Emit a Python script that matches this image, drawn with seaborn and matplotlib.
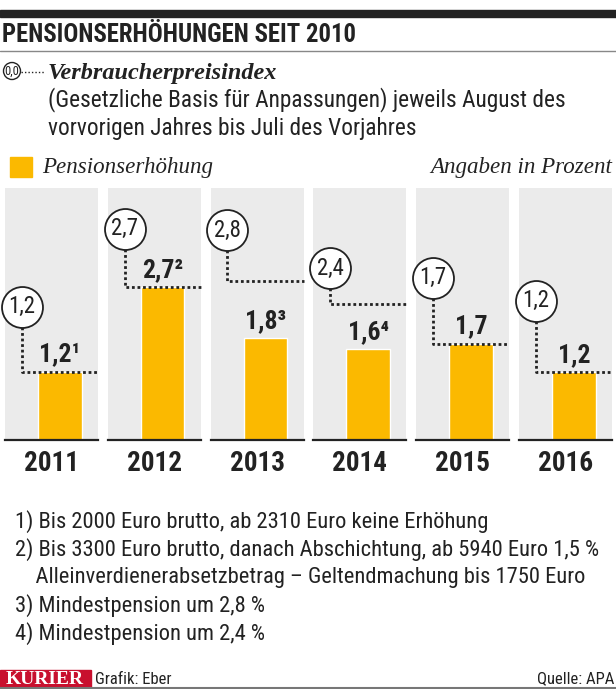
import pandas as pd
import seaborn as sns
import matplotlib.pyplot as plt
from matplotlib import font_manager
from matplotlib.lines import Line2D
from matplotlib.patches import Rectangle, Ellipse

years = ['2011', '2012', '2013', '2014', '2015', '2016']
pension = [1.2, 2.7, 1.8, 1.6, 1.7, 1.2]
cpi = [1.2, 2.7, 2.8, 2.4, 1.7, 1.2]
marks = ['¹', '²', '³', '⁴', '', '']
footnotes = [
    '1) Bis 2000 Euro brutto, ab 2310 Euro keine Erhöhung',
    '2) Bis 3300 Euro brutto, danach Abschichtung, ab 5940 Euro 1,5 %',
    '    Alleinverdienerabsetzbetrag – Geltendmachung bis 1750 Euro',
    '3) Mindestpension um 2,8 %',
    '4) Mindestpension um 2,4 %',
]
# layout only: where the CPI bubbles sit in each panel (data units)
bubble_y = [2.35, 3.72, 3.70, 3.03, 2.86, 2.45]

ORANGE = '#FBB900'
GRAY = '#EBEBEB'
INK = '#222222'

sns.set_style('white')
names = {f.name for f in font_manager.fontManager.ttflist}
cond = next((n for n in ['Liberation Sans Narrow', 'Roboto Condensed', 'Open Sans Condensed']
             if n in names), 'Roboto')
plt.rcParams['font.family'] = [cond, 'DejaVu Sans']
SERIF = ['Liberation Serif', 'DejaVu Serif']

W, H = 616, 689
fig = plt.figure(figsize=(W / 100, H / 100), dpi=100)


def fx(x):
    return x / W


def fy(y):
    return 1 - y / H


def fmt(v):
    return f'{v:.1f}'.replace('.', ',')


axes = fig.subplots(1, 6)
fig.subplots_adjust(left=fx(5), right=fx(612), top=fy(188), bottom=fy(440), wspace=10 / 93)

df = pd.DataFrame({'Jahr': years, 'Pension': pension, 'VPI': cpi})
px_per_unit = 252 / 4.44

for i, ax in enumerate(axes):
    sns.barplot(data=df.iloc[[i]], x='Jahr', y='Pension', color=ORANGE, width=0.47,
                saturation=1, ax=ax, zorder=2)
    ax.set_facecolor(GRAY)
    ax.set_xlim(-0.59, 0.41)
    ax.set_ylim(0, 4.44)
    ax.set_xticks([])
    ax.set_yticks([])
    ax.set_xlabel('')
    ax.set_ylabel('')
    for s in ['top', 'left', 'right']:
        ax.spines[s].set_visible(False)
    ax.spines['bottom'].set_color(INK)
    ax.spines['bottom'].set_linewidth(1.6)

    # CPI bubble with dotted leader
    cx, r = -0.41, 0.36
    ax.plot([cx, cx, 0.41], [bubble_y[i] - r, df.VPI[i], df.VPI[i]], color=INK, lw=2,
            ls=(0, (1, 1)), clip_on=False, zorder=3)
    ax.scatter([cx], [bubble_y[i]], s=870, facecolor='white', edgecolor=INK, lw=1.3,
               zorder=5, clip_on=False)
    ax.text(cx, bubble_y[i], fmt(df.VPI[i]), ha='center', va='center', fontsize=16.5,
            color=INK, zorder=6)

    ax.text(0, df.Pension[i] + 10 / px_per_unit, fmt(df.Pension[i]) + marks[i],
            ha='center', va='baseline', fontsize=18.5, weight='bold', color=INK)
    ax.text(0.5, -0.092, years[i], transform=ax.transAxes, ha='center', va='center',
            fontsize=19.5, weight='bold', color=INK)

# header
fig.add_artist(Rectangle((0, fy(17)), 1, 7 / H, transform=fig.transFigure, color=INK))
fig.text(fx(2), fy(35), 'PENSIONSERHÖHUNGEN SEIT 2010', ha='left', va='center',
         fontsize=17.8, weight='bold', color=INK)
fig.add_artist(Line2D([0, 1], [fy(51), fy(51)], transform=fig.transFigure, color='#888888', lw=1))

fig.add_artist(Ellipse((fx(12), fy(71)), 17 / W, 17 / H, transform=fig.transFigure,
                       facecolor='white', edgecolor=INK, lw=1))
fig.text(fx(12), fy(71), '0,0', ha='center', va='center', fontsize=9, color=INK)
fig.add_artist(Line2D([fx(21), fx(45)], [fy(72), fy(72)], transform=fig.transFigure,
                      color=INK, lw=1, ls=(0, (1, 1.5))))
fig.text(fx(48), fy(73), 'Verbraucherpreisindex', ha='left', va='center', fontsize=17.5,
         style='italic', weight='bold', family=SERIF, color=INK)
fig.text(fx(48), fy(100), '(Gesetzliche Basis für Anpassungen) jeweils August des',
         ha='left', va='center', fontsize=16.8, color=INK)
fig.text(fx(48), fy(128), 'vorvorigen Jahres bis Juli des Vorjahres',
         ha='left', va='center', fontsize=16.8, color=INK)

# legend
fig.add_artist(Rectangle((fx(10), fy(177)), 22 / W, 20 / H, transform=fig.transFigure,
                         color=ORANGE))
fig.text(fx(42), fy(167), 'Pensionserhöhung', ha='left', va='center', fontsize=16.6,
         style='italic', family=SERIF, color=INK)
fig.text(fx(612), fy(167), 'Angaben in Prozent', ha='right', va='center', fontsize=16.6,
         style='italic', family=SERIF, color=INK)

# footnotes
for k, line in enumerate(footnotes):
    fig.text(fx(15), fy(522 + 27.8 * k), line, ha='left', va='center', fontsize=16.2, color=INK)

# footer
fig.add_artist(Rectangle((0, fy(687)), 91 / W, 17 / H, transform=fig.transFigure,
                         color='#C8102E'))
fig.text(fx(45), fy(679), 'KURIER', ha='center', va='center', fontsize=14, weight='bold',
         family=SERIF, color='white')
fig.text(fx(95), fy(679), 'Grafik: Eber', ha='left', va='center', fontsize=12, color=INK)
fig.text(fx(614), fy(679), 'Quelle: APA', ha='right', va='center', fontsize=12, color=INK)
fig.add_artist(Line2D([0, 1], [fy(688), fy(688)], transform=fig.transFigure, color='#777777',
                      lw=1.5))

fig.savefig('out.png', dpi=100)
